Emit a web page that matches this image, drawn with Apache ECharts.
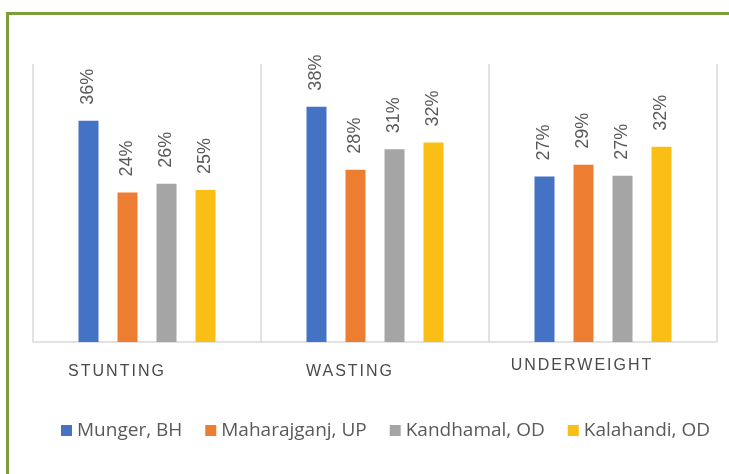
<!DOCTYPE html>
<html>
<head>
<meta charset="utf-8">
<script src="https://cdn.jsdelivr.net/npm/echarts@6/dist/echarts.min.js"></script>
<style>
html,body{margin:0;padding:0;background:#fff;overflow:hidden;}
#frame{position:absolute;left:6px;top:12px;width:900px;height:700px;border-left:3px solid #7D9F3B;border-top:3px solid #7D9F3B;}
#chart{position:absolute;left:0;top:0;width:729px;height:474px;}
</style>
</head>
<body>
<div id="frame"></div>
<div id="chart"></div>
<script>
const categories = ['STUNTING', 'WASTING', 'UNDERWEIGHT'];
const seriesNames = ['Munger, BH', 'Maharajganj, UP', 'Kandhamal, OD', 'Kalahandi, OD'];
const mungerBH = [35.8, 38.1, 26.8];
const maharajganjUP = [24.2, 27.9, 28.7];
const kandhamalOD = [25.6, 31.2, 26.9];
const kalahandiOD = [24.6, 32.3, 31.6];
const seriesValues = [mungerBH, maharajganjUP, kandhamalOD, kalahandiOD];
const colors = ['#4472C4', '#ED7D31', '#A5A5A5', '#FBBE14'];
const labelShift = [[6, 60, 0, 0], [6, 50, 0, 0], [0, 42, 0, 0]];

// wider tracking for the category captions only (canvas letterSpacing)
const origFillText = CanvasRenderingContext2D.prototype.fillText;
CanvasRenderingContext2D.prototype.fillText = function (t, x, y, w) {
  const isCat = categories.indexOf(t) >= 0 && 'letterSpacing' in this;
  if (isCat) {
    this.save();
    this.letterSpacing = '2px';
    this.font = this.font;
  }
  const r = w === undefined ? origFillText.call(this, t, x, y) : origFillText.call(this, t, x, y, w);
  if (isCat) {
    this.letterSpacing = '0px';
    this.restore();
    this.font = this.font;
  }
  return r;
};

const chart = echarts.init(document.getElementById('chart'), null, {renderer: 'canvas'});
chart.setOption({
  animation: false,
  color: colors,
  legend: {
    left: 56, top: 416,
    itemWidth: 11, itemHeight: 11, itemGap: 23,
    icon: 'rect',
    textStyle: {fontFamily: 'Open Sans', fontSize: 19, color: '#595959'},
    data: seriesNames
  },
  grid: {left: 33, right: 12, top: 64, bottom: 132},
  xAxis: {
    type: 'category',
    data: categories.map((c, i) => ({value: c, textStyle: {padding: labelShift[i]}})),
    axisLine: {lineStyle: {color: '#D9D9D9', width: 1.5}},
    axisTick: {show: false},
    splitLine: {show: true, lineStyle: {color: '#D9D9D9', width: 1.5}},
    axisLabel: {margin: 16, fontFamily: 'Liberation Sans', fontSize: 16, color: '#4A4A4A'}
  },
  yAxis: {type: 'value', min: 0, max: 45, show: false, splitLine: {show: false}},
  series: seriesNames.map((n, i) => ({
    name: n,
    type: 'bar',
    data: seriesValues[i],
    barWidth: 20,
    barGap: '95%',
    label: {
      show: true,
      position: 'top',
      distance: 16,
      rotate: 90,
      align: 'left',
      verticalAlign: 'middle',
      fontFamily: 'Liberation Sans',
      fontSize: 18,
      color: '#595959',
      formatter: p => Math.round(p.value) + '%'
    }
  }))
});
</script>
</body>
</html>
